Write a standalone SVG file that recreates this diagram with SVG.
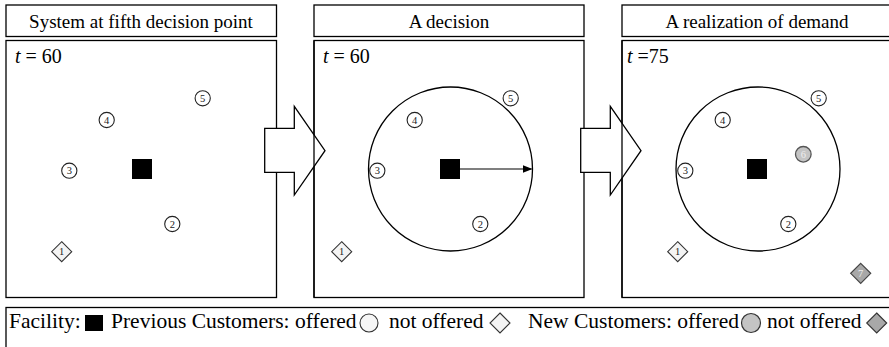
<svg xmlns="http://www.w3.org/2000/svg" width="889" height="347" viewBox="0 0 889 347">
<style>
.box{fill:#fff;stroke:#000;stroke-width:1.3}
.edge{stroke:#000;stroke-width:1.3}
.title{font-family:"Liberation Serif",serif;font-size:19px;text-anchor:middle;fill:#000}
.tl{font-family:"Liberation Serif",serif;font-size:20px;fill:#000}
.leg{font-family:"Liberation Serif",serif;font-size:21.5px;fill:#000}
.nc{fill:#fff;stroke:#222;stroke-width:1.1}
.nd{fill:#f4f4f4;stroke:#333;stroke-width:1.1}
.gc{fill:#c4c4c4;stroke:#555;stroke-width:1.3}
.gd{fill:#a8a8a8;stroke:#444;stroke-width:1.2}
.num{font-family:"Liberation Serif",serif;font-size:10.5px;text-anchor:middle;fill:#222}
.numg{font-family:"Liberation Serif",serif;font-size:10.5px;text-anchor:middle;fill:#eee}
.fac{fill:#000}
.big{fill:none;stroke:#000;stroke-width:1.3}
.arrow{fill:#fff;stroke:#000;stroke-width:1.3;stroke-linejoin:miter}
</style>
<defs>
<marker id="ah" markerWidth="10" markerHeight="8" refX="9" refY="4" orient="auto" markerUnits="userSpaceOnUse">
<path d="M0,0 L10,4 L0,8 Z" fill="#000"/>
</marker>
</defs>
<rect width="889" height="347" fill="#fff"/>

<g id="panel1">
<rect class="box" x="6" y="5" width="270.5" height="31.5"/>
<text class="title" x="141" y="28">System at fifth decision point</text>
<rect class="box" x="6" y="40.5" width="270.5" height="257"/>
<text class="tl" x="15" y="63"><tspan font-style="italic">t</tspan> = 60</text>
</g>

<g id="panel2">
<rect class="box" x="314" y="5" width="270" height="31.5"/>
<text class="title" x="449" y="28">A decision</text>
<rect class="box" x="314" y="40.5" width="270" height="257"/>
<text class="tl" x="323" y="63"><tspan font-style="italic">t</tspan> = 60</text>
<circle class="big" cx="450.5" cy="169" r="82"/>
</g>

<g id="panel3">
<rect class="box" x="622" y="5" width="275" height="31.5"/>
<text class="title" x="757" y="28">A realization of demand</text>
<rect class="box" x="622" y="40.5" width="275" height="257"/>
<text class="tl" x="627" y="63"><tspan font-style="italic">t</tspan> =75</text>
<circle class="big" cx="758" cy="169" r="82"/>
</g>

<g id="connectors">
<path id="arrow1" class="arrow" d="M264.7,128.3 H294.3 V106.4 L325,150.7 L294.3,195 V172.3 H264.7 Z"/>
<path id="arrow2" class="arrow" d="M580.7,128.3 H610.3 V106.4 L641,150.7 L610.3,195 V172.3 H580.7 Z"/>
<line id="radius" x1="460" y1="169" x2="531.5" y2="169" stroke="#000" stroke-width="1.2" marker-end="url(#ah)"/>
</g>

<g id="panel-left-edges">
<line class="edge" x1="314" y1="40.5" x2="314" y2="297.5"/>
<line class="edge" x1="622" y1="40.5" x2="622" y2="297.5"/>
</g>

<!-- panel 1 nodes -->
<g id="p1-facility"><rect class="fac" x="132" y="159" width="20" height="20"/></g>
<g id="p1-c5"><circle class="nc" cx="202.7" cy="98.3" r="7.6"/><text class="num" x="202.7" y="102">5</text></g>
<g id="p1-c4"><circle class="nc" cx="106.7" cy="120" r="7.6"/><text class="num" x="106.7" y="123.7">4</text></g>
<g id="p1-c3"><circle class="nc" cx="69.3" cy="170.7" r="7.6"/><text class="num" x="69.3" y="174.4">3</text></g>
<g id="p1-c2"><circle class="nc" cx="172.3" cy="224" r="7.6"/><text class="num" x="172.3" y="227.7">2</text></g>
<g id="p1-d1"><path class="nd" d="M61.7,241.7 L71.7,251.7 L61.7,261.7 L51.7,251.7 Z"/><text class="num" x="61.7" y="255.4">1</text></g>

<!-- panel 2 nodes -->
<g id="p2-facility"><rect class="fac" x="440" y="159" width="20" height="20"/></g>
<g id="p2-c5"><circle class="nc" cx="510.7" cy="98.3" r="7.6"/><text class="num" x="510.7" y="102">5</text></g>
<g id="p2-c4"><circle class="nc" cx="414.7" cy="120" r="7.6"/><text class="num" x="414.7" y="123.7">4</text></g>
<g id="p2-c3"><circle class="nc" cx="377.3" cy="170.7" r="7.6"/><text class="num" x="377.3" y="174.4">3</text></g>
<g id="p2-c2"><circle class="nc" cx="480.3" cy="224" r="7.6"/><text class="num" x="480.3" y="227.7">2</text></g>
<g id="p2-d1"><path class="nd" d="M341.7,241.7 L351.7,251.7 L341.7,261.7 L331.7,251.7 Z"/><text class="num" x="341.7" y="255.4">1</text></g>

<!-- panel 3 nodes -->
<g id="p3-facility"><rect class="fac" x="747" y="159" width="20" height="20"/></g>
<g id="p3-c5"><circle class="nc" cx="818.7" cy="98.3" r="7.6"/><text class="num" x="818.7" y="102">5</text></g>
<g id="p3-c4"><circle class="nc" cx="722.7" cy="120" r="7.6"/><text class="num" x="722.7" y="123.7">4</text></g>
<g id="p3-c3"><circle class="nc" cx="685.3" cy="170.7" r="7.6"/><text class="num" x="685.3" y="174.4">3</text></g>
<g id="p3-c2"><circle class="nc" cx="788.3" cy="224" r="7.6"/><text class="num" x="788.3" y="227.7">2</text></g>
<g id="p3-d1"><path class="nd" d="M677.7,241.7 L687.7,251.7 L677.7,261.7 L667.7,251.7 Z"/><text class="num" x="677.7" y="255.4">1</text></g>
<g id="p3-c6"><circle class="gc" cx="803.3" cy="154.3" r="7.8"/><text class="numg" x="803.3" y="158">6</text></g>
<g id="p3-d7"><path class="gd" d="M860.7,263.3 L870.7,273.3 L860.7,283.3 L850.7,273.3 Z"/><text class="numg" x="860.7" y="277">7</text></g>

<g id="legend">
<rect class="box" x="6" y="307.5" width="890" height="45"/>
<text class="leg" x="9" y="328">Facility:</text>
<rect class="fac" x="85" y="315" width="18" height="16"/>
<text class="leg" x="111" y="328">Previous Customers: offered</text>
<circle cx="369" cy="323" r="9" fill="#f6f6f6" stroke="#333" stroke-width="1.1"/>
<text class="leg" x="389" y="328">not offered</text>
<path d="M500,313 L510,323 L500,333 L490,323 Z" fill="#f4f4f4" stroke="#333" stroke-width="1.1"/>
<text class="leg" x="528" y="328">New Customers: offered</text>
<circle cx="751" cy="323" r="9.5" fill="#c4c4c4" stroke="#333" stroke-width="1.2"/>
<text class="leg" x="767" y="328">not offered</text>
<path d="M876.7,313 L886.7,323 L876.7,333 L866.7,323 Z" fill="#a8a8a8" stroke="#333" stroke-width="1.1"/>
</g>
</svg>
